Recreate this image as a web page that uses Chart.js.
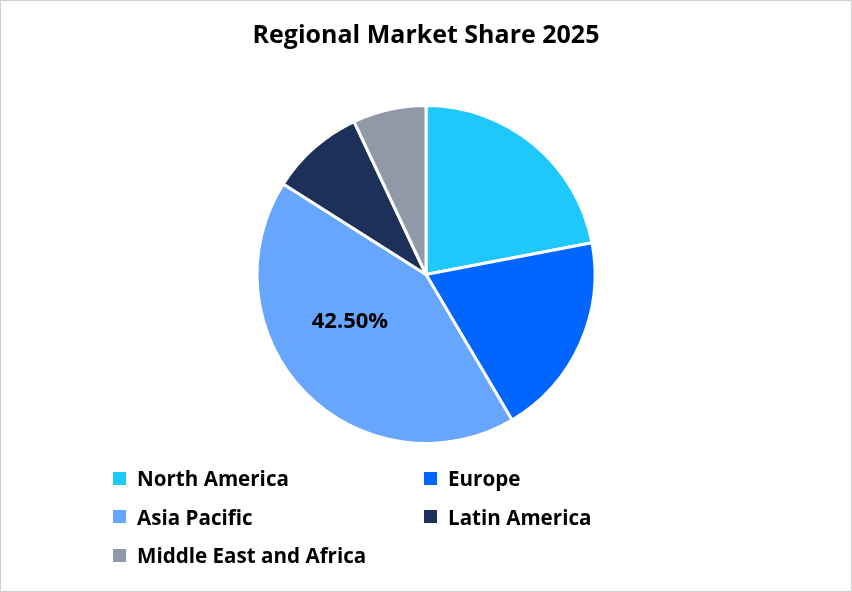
<!DOCTYPE html>
<html lang="en">
<head>
<meta charset="UTF-8">
<title>Regional Market Share 2025</title>
<script src="https://cdn.jsdelivr.net/npm/chart.js"></script>
<style>
  html, body { margin: 0; padding: 0; background: #fff; }
  #wrap { position: relative; width: 850px; height: 590px; border: 1px solid #d0d0d0; }
  #legend { position: absolute; left: 0; top: 0; width: 100%; height: 100%; pointer-events: none;
            font-family: "Open Sans", Lato, sans-serif; font-weight: bold; font-size: 20.6px; color: #000; }
  .item { position: absolute; display: flex; align-items: center; white-space: nowrap; }
  .box { width: 13px; height: 13px; margin-right: 11px; }
</style>
</head>
<body>
<div id="wrap">
  <canvas id="pie" width="850" height="590"></canvas>
  <div id="legend"></div>
</div>
<script>
const regions = ['North America', 'Europe', 'Asia Pacific', 'Latin America', 'Middle East and Africa'];
const shares = [22, 19.5, 42.5, 9, 7];
const colors = ['#1ec8fb', '#0066ff', '#66a6ff', '#1c3059', '#9099a8'];
const labelled = ['Asia Pacific'];

// percent label inside the slice
const sliceLabel = {
  id: 'sliceLabel',
  afterDatasetsDraw(chart) {
    const ctx = chart.ctx;
    const meta = chart.getDatasetMeta(0);
    const total = shares.reduce((a, b) => a + b, 0);
    meta.data.forEach((arc, i) => {
      if (!labelled.includes(regions[i])) return;
      const p = arc.getProps(['x', 'y', 'startAngle', 'endAngle', 'outerRadius'], true);
      const mid = p.startAngle + (p.endAngle - p.startAngle) * 0.58;
      const r = p.outerRadius * 0.53;
      ctx.save();
      ctx.font = 'bold 22px "Open Sans", Lato, sans-serif';
      ctx.fillStyle = '#000';
      ctx.textAlign = 'center';
      ctx.textBaseline = 'middle';
      ctx.fillText((shares[i] / total * 100).toFixed(2) + '%', p.x + Math.cos(mid) * r, p.y + Math.sin(mid) * r);
      ctx.restore();
    });
  }
};

new Chart(document.getElementById('pie'), {
  type: 'pie',
  data: {
    labels: regions,
    datasets: [{
      data: shares,
      backgroundColor: colors,
      borderColor: '#fff',
      borderWidth: 3
    }]
  },
  options: {
    responsive: false,
    animation: false,
    layout: { padding: { top: 0, bottom: 146 } },
    plugins: {
      legend: { display: false },
      tooltip: { enabled: false },
      title: {
        display: true,
        text: 'Regional Market Share 2025',
        color: '#000',
        font: { family: '"Open Sans", Lato, sans-serif', size: 25, weight: 'bold', lineHeight: 1.2 },
        padding: { top: 20, bottom: 53 }
      }
    }
  },
  plugins: [sliceLabel]
});

// two-column legend
const legend = document.getElementById('legend');
regions.forEach((name, i) => {
  const item = document.createElement('div');
  item.className = 'item';
  item.style.left = (i % 2 === 0 ? 112 : 423) + 'px';
  item.style.top = (464 + Math.floor(i / 2) * 38.5) + 'px';
  item.style.height = '26px';
  const box = document.createElement('span');
  box.className = 'box';
  box.style.background = colors[i];
  const txt = document.createElement('span');
  txt.textContent = name;
  item.appendChild(box);
  item.appendChild(txt);
  legend.appendChild(item);
});
</script>
</body>
</html>
